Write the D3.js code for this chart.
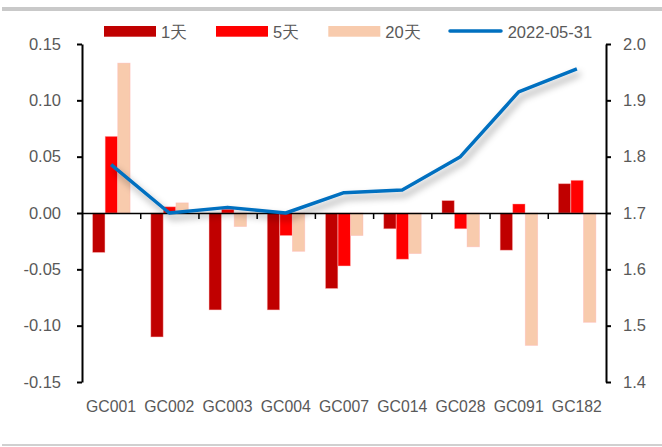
<!DOCTYPE html>
<html>
<head>
<meta charset="utf-8">
<script src="https://cdn.jsdelivr.net/npm/d3@7"></script>
<style>
  html, body { margin: 0; padding: 0; background: #fff; }
  svg { display: block; }
  text { font-family: "Liberation Sans", Arial, sans-serif; fill: #595959; }
</style>
</head>
<body>
<svg id="chart" width="662" height="447"></svg>
<script>
// ---- data ----
const categories = ["GC001", "GC002", "GC003", "GC004", "GC007", "GC014", "GC028", "GC091", "GC182"];
const seriesNames = ["1天", "5天", "20天"];
const day1  = [-0.035, -0.110, -0.086, -0.086, -0.067, -0.014, 0.011, -0.033, 0.026];
const day5  = [0.068, 0.0055, 0.0033, -0.020, -0.047, -0.041, -0.014, 0.008, 0.029];
const day20 = [0.133, 0.009, -0.012, -0.034, -0.020, -0.036, -0.030, -0.1175, -0.097];
const lineName = "2022-05-31";
const lineValues = [1.786, 1.700, 1.710, 1.700, 1.736, 1.741, 1.800, 1.915, 1.956];
const leftTicks = [-0.15, -0.10, -0.05, 0.00, 0.05, 0.10, 0.15];
const rightTicks = [1.4, 1.5, 1.6, 1.7, 1.8, 1.9, 2.0];

// ---- styles ----
const barColors = ["#C00000", "#FF0000", "#F8CBAD"];
const lineColor = "#0070C0";
const fontSize = 16.5;

const svg = d3.select("#chart");
const L = 82, R = 606, T = 44, B = 382;

// frame lines
svg.append("rect").attr("x", 2).attr("y", 7).attr("width", 660).attr("height", 4).attr("fill", "#C9C9C9");
svg.append("rect").attr("x", 2).attr("y", 444).attr("width", 660).attr("height", 2).attr("fill", "#D0D0D0");

const defs = svg.append("defs");
const f = defs.append("filter").attr("id", "shadow").attr("x", "-10%").attr("y", "-30%").attr("width", "130%").attr("height", "180%");
f.append("feDropShadow").attr("dx", 3).attr("dy", 5).attr("stdDeviation", 3.5)
  .attr("flood-color", "#000").attr("flood-opacity", 0.38);

const x0 = d3.scaleBand().domain(categories).range([L, R]).padding(0);
const bw = x0.bandwidth();
const x1 = d3.scaleBand().domain(seriesNames).range([bw * 0.178, bw * 0.83]).padding(0.02);
const yL = d3.scaleLinear().domain([-0.15, 0.15]).range([B, T]);
const yR = d3.scaleLinear().domain([1.4, 2.0]).range([B, T]);

const seriesData = [day1, day5, day20];

// bars
seriesData.forEach((vals, si) => {
  svg.append("g").selectAll("rect").data(vals).join("rect")
    .attr("x", (d, i) => x0(categories[i]) + x1(seriesNames[si]))
    .attr("width", x1.bandwidth())
    .attr("y", d => yL(Math.max(0, d)))
    .attr("height", d => Math.abs(yL(d) - yL(0)))
    .attr("fill", barColors[si])
    .attr("stroke", "#ffb3b3").attr("stroke-opacity", 0.5).attr("stroke-width", 0.8);
});

// zero line with category ticks
const xIdx = d3.scaleLinear().domain([0, categories.length]).range([L, R]);
const zeroAxis = svg.append("g").attr("transform", `translate(0,${yL(0)})`)
  .call(d3.axisBottom(xIdx).tickValues(d3.range(1, categories.length)).tickFormat("").tickSize(6).tickSizeOuter(0));
zeroAxis.select(".domain").attr("stroke", "#000").attr("stroke-width", 1.5);
zeroAxis.selectAll(".tick line").attr("stroke", "#000").attr("stroke-width", 1.5);

// left axis
const la = svg.append("g").attr("transform", `translate(${L},0)`)
  .call(d3.axisLeft(yL).tickValues(leftTicks).tickFormat(d3.format(".2f")).tickSize(5).tickSizeOuter(0).tickPadding(16));
la.select(".domain").attr("stroke", "#000").attr("stroke-width", 2);
la.selectAll(".tick line").attr("stroke", "#000").attr("stroke-width", 2);
la.selectAll("text").style("font-size", fontSize + "px").attr("fill", "#595959")
  .text(d => d3.format(".2f")(d).replace("−", "-"));

// right axis
const ra = svg.append("g").attr("transform", `translate(${R},0)`)
  .call(d3.axisRight(yR).tickValues(rightTicks).tickFormat(d3.format(".1f")).tickSize(5).tickSizeOuter(0).tickPadding(12));
ra.select(".domain").attr("stroke", "#000").attr("stroke-width", 2);
ra.selectAll(".tick line").attr("stroke", "#000").attr("stroke-width", 2);
ra.selectAll("text").style("font-size", fontSize + "px").attr("fill", "#595959");

// category labels
const ca = svg.append("g").attr("transform", `translate(0,${B})`)
  .call(d3.axisBottom(x0).tickSize(0).tickPadding(19));
ca.select(".domain").remove();
ca.selectAll("text").style("font-size", "15.8px").attr("fill", "#595959");

// line
const line = d3.line()
  .x((d, i) => x0(categories[i]) + bw / 2)
  .y(d => yR(d));
svg.append("path").datum(lineValues)
  .attr("d", line)
  .attr("fill", "none")
  .attr("stroke", lineColor)
  .attr("stroke-width", 3.5)
  .attr("stroke-linejoin", "round")
  .attr("filter", "url(#shadow)");

// legend
const legendX = [104, 216, 328.3];
const lg = svg.append("g");
seriesNames.forEach((n, i) => {
  lg.append("rect").attr("x", legendX[i]).attr("y", 26).attr("width", 52).attr("height", 10.7).attr("fill", barColors[i]);
  lg.append("text").attr("x", legendX[i] + 57).attr("y", 37.5).style("font-size", fontSize + "px").text(n);
});
lg.append("line").attr("x1", 450).attr("x2", 501).attr("y1", 31).attr("y2", 31)
  .attr("stroke", lineColor).attr("stroke-width", 3.5).attr("stroke-linecap", "round");
lg.append("text").attr("x", 507.7).attr("y", 37.5).style("font-size", fontSize + "px").text(lineName);
</script>
</body>
</html>
